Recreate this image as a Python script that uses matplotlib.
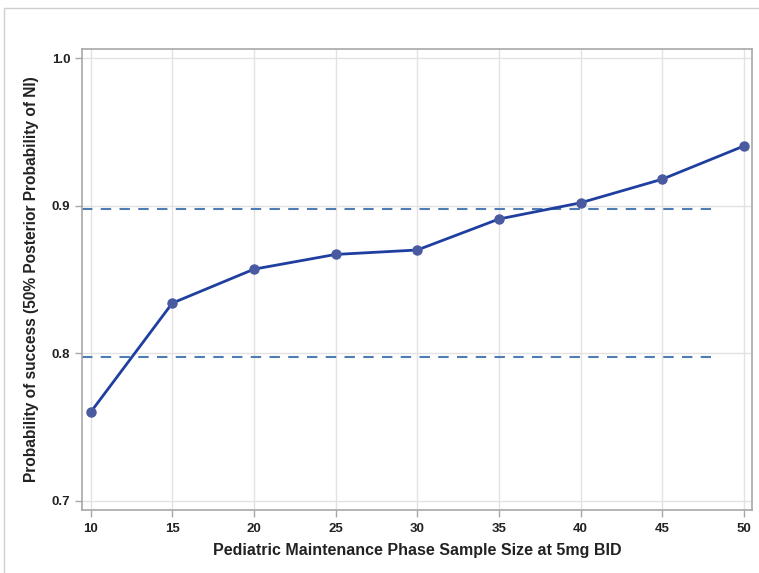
import matplotlib
matplotlib.use("Agg")
import matplotlib.pyplot as plt
from matplotlib.patches import Rectangle

sample_sizes = [10, 15, 20, 25, 30, 35, 40, 45, 50]
prob_success = [0.760, 0.834, 0.857, 0.867, 0.870, 0.891, 0.902, 0.918, 0.9405]
ref_levels = [0.898, 0.7975]
ref_xmax = 48
x_ticks = [10, 15, 20, 25, 30, 35, 40, 45, 50]
y_ticks = [0.7, 0.8, 0.9, 1.0]
x_label = "Pediatric Maintenance Phase Sample Size at 5mg BID"
y_label = "Probability of success (50% Posterior Probability of NI)"

plt.rcParams['font.family'] = ['Liberation Sans', 'DejaVu Sans']

fig = plt.figure(figsize=(7.59, 5.73), dpi=100)
fig.patches.append(Rectangle((4/759, -0.1), 1.2, (573-8)/573 + 0.1, transform=fig.transFigure,
                             fill=False, edgecolor='#cfcfcf', linewidth=1.0))
ax = fig.add_axes([82/759, 1-510/573, (752-82)/759, (510-49)/573])

ax.set_xlim(9.47, 50.5)
ax.set_ylim(0.6937, 1.0063)

ax.set_xticks(x_ticks)
ax.set_yticks(y_ticks)
ax.set_yticklabels([f"{v:.1f}" for v in y_ticks])
ax.grid(True, color='#e2e2e2', linewidth=1.0)
ax.set_axisbelow(True)

for lvl in ref_levels:
    ax.plot([9.47, ref_xmax], [lvl, lvl], linestyle=(0, (5, 4)), color='#4f7db3',
            linewidth=1.5, zorder=2)

ax.plot(sample_sizes, prob_success, color='#1f3fa0', linewidth=2.0, zorder=3)
ax.plot(sample_sizes, prob_success, linestyle='none', marker='o', markersize=6.5,
        color='#4a5aa0', zorder=4)

for s in ax.spines.values():
    s.set_color('#a8a8a8')
    s.set_linewidth(1.2)

ax.tick_params(axis='both', colors='#a8a8a8', length=5, width=1, labelcolor='#222222',
               labelsize=9.5)
for lab in ax.get_xticklabels() + ax.get_yticklabels():
    lab.set_fontweight('bold')
ax.tick_params(axis='x', pad=4)

ax.set_xlabel(x_label, fontsize=11.5, fontweight='bold', color='#222222', labelpad=6)
ax.set_ylabel(y_label, fontsize=11.2, fontweight='bold', color='#222222', labelpad=9)

fig.savefig("out.png", dpi=100)
